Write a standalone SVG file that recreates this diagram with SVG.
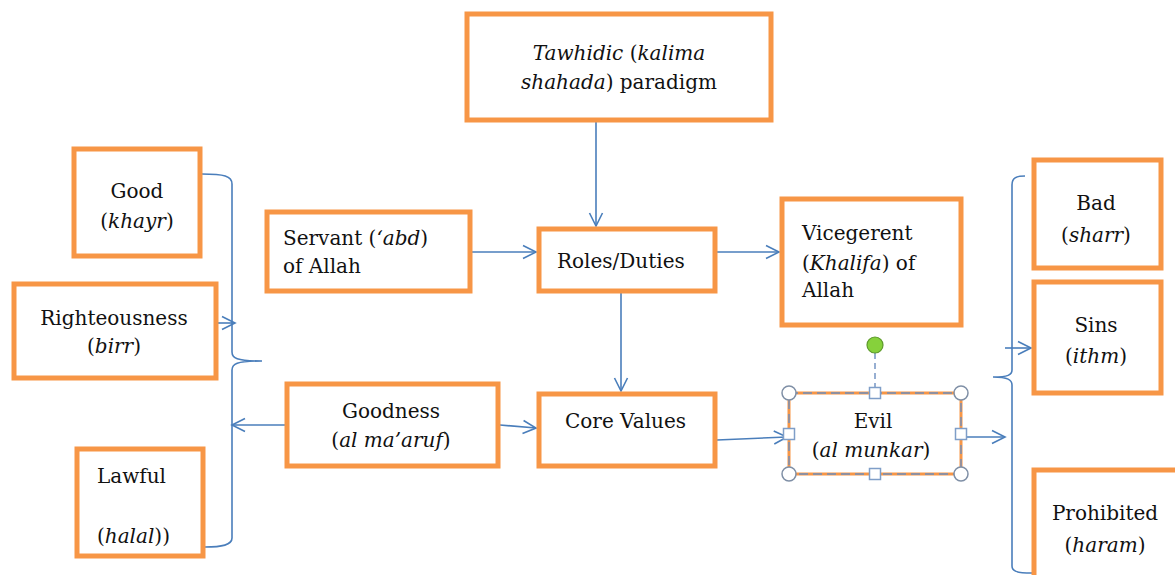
<svg xmlns="http://www.w3.org/2000/svg" width="1175" height="575" viewBox="0 0 1175 575" font-family="DejaVu Serif, Liberation Serif, serif" font-size="20">
<style>
.box{fill:#fff;stroke:#F79646;stroke-width:5}
text{fill:#111}
.c{text-anchor:middle}
.i{font-style:italic}
.ln{fill:none;stroke:#4A7EBB;stroke-width:1.6}
.hc{fill:#fff;stroke:#7F8FA6;stroke-width:1.5}
.hs{fill:#fff;stroke:#7F9EC8;stroke-width:1.5}
</style>
<defs>
<marker id="a" markerUnits="userSpaceOnUse" markerWidth="16" markerHeight="16" refX="14" refY="8" orient="auto">
<path d="M1,1.5 L14,8 L1,14.5" fill="none" stroke="#4A7EBB" stroke-width="1.6"/>
</marker>
</defs>
<rect width="1175" height="575" fill="#fff"/>
<g id="connectors">
<line class="ln" x1="596" y1="121" x2="596" y2="226" marker-end="url(#a)"/>
<line class="ln" x1="472" y1="252" x2="536" y2="252" marker-end="url(#a)"/>
<line class="ln" x1="717" y1="252" x2="779" y2="252" marker-end="url(#a)"/>
<line class="ln" x1="621" y1="293" x2="621" y2="391" marker-end="url(#a)"/>
<line class="ln" x1="500" y1="425" x2="536" y2="428" marker-end="url(#a)"/>
<line class="ln" x1="717" y1="440" x2="787" y2="437" marker-end="url(#a)"/>
<line class="ln" x1="962" y1="437" x2="1005" y2="437" marker-end="url(#a)"/>
<line class="ln" x1="285" y1="425" x2="232" y2="425" marker-end="url(#a)"/>
<line class="ln" x1="203" y1="323" x2="235" y2="323" marker-end="url(#a)"/>
<line class="ln" x1="1005" y1="348" x2="1031" y2="348" marker-end="url(#a)"/>
<path class="ln" d="M202,174 C224,174 232,176 232,184 L232,352 C232,358 236,361 262,361 M262,361 C236,361 232,364 232,370 L232,538 C232,545 222,547 205,547"/>
<path class="ln" d="M1025,176 C1016,176 1012,178 1012,185 L1012,370 C1012,375 1008,377 993,377 M993,377 C1008,377 1012,380 1012,385 L1012,566 C1012,571 1016,573 1032,573"/>
</g>
<g id="tawhidic">
<rect class="box" x="467" y="14" width="304" height="106"/>
<text class="c" x="619" y="60"><tspan class="i">Tawhidic</tspan> (<tspan class="i">kalima</tspan></text>
<text class="c" x="619" y="89"><tspan class="i">shahada</tspan>) paradigm</text>
</g>
<g id="good">
<rect class="box" x="74" y="149" width="126" height="107"/>
<text class="c" x="137" y="198">Good</text>
<text class="c" x="137" y="228">(<tspan class="i">khayr</tspan>)</text>
</g>
<g id="righteousness">
<rect class="box" x="14" y="284" width="202" height="94"/>
<text class="c" x="114" y="325">Righteousness</text>
<text class="c" x="114" y="353">(<tspan class="i">birr</tspan>)</text>
</g>
<g id="lawful">
<rect class="box" x="77" y="449" width="126" height="107"/>
<text x="97" y="483">Lawful</text>
<text x="97" y="543">(<tspan class="i">halal</tspan>))</text>
</g>
<g id="servant">
<rect class="box" x="267" y="212" width="203" height="79"/>
<text x="283" y="245">Servant (<tspan class="i">‘abd</tspan>)</text>
<text x="283" y="273">of Allah</text>
</g>
<g id="roles">
<rect class="box" x="539" y="229" width="176" height="62"/>
<text x="557" y="268">Roles/Duties</text>
</g>
<g id="vicegerent">
<rect class="box" x="782" y="199" width="179" height="126"/>
<text x="802" y="240">Vicegerent</text>
<text x="802" y="270">(<tspan class="i">Khalifa</tspan>) of</text>
<text x="802" y="297">Allah</text>
</g>
<g id="goodness">
<rect class="box" x="287" y="384" width="211" height="82"/>
<text class="c" x="391" y="418">Goodness</text>
<text class="c" x="391" y="447">(<tspan class="i">al</tspan> <tspan class="i">ma’aruf</tspan>)</text>
</g>
<g id="core">
<rect class="box" x="539" y="394" width="176" height="72"/>
<text x="565" y="428">Core Values</text>
</g>
<g id="evil">
<rect x="789" y="393" width="172" height="81" fill="#fff" stroke="#F79646" stroke-width="3"/>
<rect x="789" y="393" width="172" height="81" fill="none" stroke="#6C8EBF" stroke-width="1.4" stroke-dasharray="9 5"/>
<line x1="875" y1="353" x2="875" y2="387" stroke="#6C8EBF" stroke-width="1.4" stroke-dasharray="6 4"/>
<circle cx="875" cy="345" r="8" fill="#86D13B" stroke="#5E9A2C" stroke-width="1.2"/>
<circle class="hc" cx="789" cy="393" r="7"/>
<circle class="hc" cx="961" cy="393" r="7"/>
<circle class="hc" cx="789" cy="474" r="7"/>
<circle class="hc" cx="961" cy="474" r="7"/>
<rect class="hs" x="869.5" y="387.5" width="11" height="11"/>
<rect class="hs" x="869.5" y="468.5" width="11" height="11"/>
<rect class="hs" x="783.5" y="428.5" width="11" height="11"/>
<rect class="hs" x="955.5" y="428.5" width="11" height="11"/>
<text class="c" x="873" y="428">Evil</text>
<text class="c" x="871" y="457">(<tspan class="i">al</tspan> <tspan class="i">munkar</tspan>)</text>
</g>
<g id="bad">
<rect class="box" x="1034" y="160" width="127" height="108"/>
<text class="c" x="1096" y="210">Bad</text>
<text class="c" x="1096" y="242">(<tspan class="i">sharr</tspan>)</text>
</g>
<g id="sins">
<rect class="box" x="1034" y="282" width="127" height="111"/>
<text class="c" x="1096" y="332">Sins</text>
<text class="c" x="1096" y="363">(<tspan class="i">ithm</tspan>)</text>
</g>
<g id="prohibited">
<rect class="box" x="1034" y="470" width="150" height="120"/>
<text class="c" x="1105" y="520">Prohibited</text>
<text class="c" x="1105" y="552">(<tspan class="i">haram</tspan>)</text>
</g>
</svg>
